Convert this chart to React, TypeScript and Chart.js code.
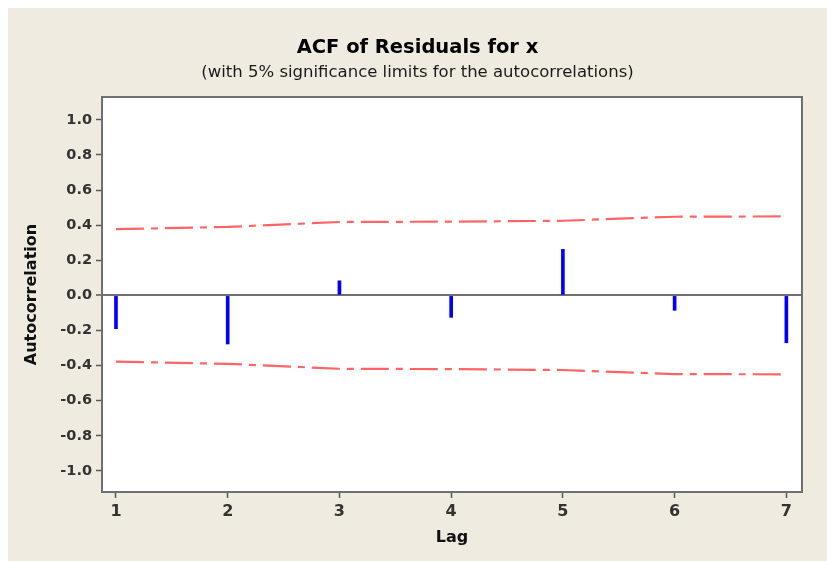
import { useEffect, useRef } from "react";
import { Chart, registerables } from "chart.js";

Chart.register(...registerables);

// ---- data ----
const lags = [1, 2, 3, 4, 5, 6, 7];
const acfValues = [-0.19, -0.277, 0.083, -0.125, 0.262, -0.085, -0.27];
const upperLimit = [0.377, 0.39, 0.418, 0.42, 0.425, 0.448, 0.45];
const lowerLimit = [-0.377, -0.39, -0.418, -0.42, -0.425, -0.448, -0.45];
const yTicks = [-1.0, -0.8, -0.6, -0.4, -0.2, 0.0, 0.2, 0.4, 0.6, 0.8, 1.0];
const xTicks = [1, 2, 3, 4, 5, 6, 7];

const titleText = "ACF of Residuals for x";
const subtitleText = "(with 5% significance limits for the autocorrelations)";
const xTitle = "Lag";
const yTitle = "Autocorrelation";

const FONT = "'DejaVu Sans', Verdana, sans-serif";
const BG = "#efebe0";

const framePlugin = {
  id: "frame",
  beforeDraw(chart: any) {
    const { ctx, width, height, chartArea: a } = chart;
    ctx.save();
    ctx.fillStyle = BG;
    ctx.fillRect(0, 0, width, height);
    ctx.fillStyle = "#ffffff";
    ctx.fillRect(a.left, a.top, a.right - a.left, a.bottom - a.top);
    ctx.restore();
  },
  afterDraw(chart: any) {
    const { ctx, chartArea: a } = chart;
    ctx.save();
    ctx.strokeStyle = "#707070";
    ctx.lineWidth = 2;
    ctx.strokeRect(a.left, a.top, a.right - a.left, a.bottom - a.top);
    ctx.restore();
  },
};

export default function App() {
  const ref = useRef<HTMLCanvasElement | null>(null);

  useEffect(() => {
    document.body.style.margin = "8px 0 0 8px";
    document.documentElement.style.overflow = "hidden";
    if (!ref.current) return;
    const chart = new Chart(ref.current, {
      type: "bar",
      data: {
        datasets: [
          {
            type: "bar",
            data: lags.map((l, i) => ({ x: l, y: acfValues[i] })),
            backgroundColor: "#0000ff",
            borderWidth: 0,
            barThickness: 3,
            order: 1,
          } as any,
          {
            type: "line",
            data: lags.map((l, i) => ({ x: l, y: upperLimit[i] })),
            borderColor: "#ff6464",
            borderWidth: 2.2,
            borderDash: [28, 7, 7, 7],
            pointRadius: 0,
            tension: 0,
            fill: false,
            order: 0,
          },
          {
            type: "line",
            data: lags.map((l, i) => ({ x: l, y: lowerLimit[i] })),
            borderColor: "#ff6464",
            borderWidth: 2.2,
            borderDash: [28, 7, 7, 7],
            pointRadius: 0,
            tension: 0,
            fill: false,
            order: 0,
          },
        ],
      },
      options: {
        responsive: false,
        animation: false,
        layout: { padding: { left: 0, right: 0, top: 0, bottom: 0 } },
        plugins: {
          legend: { display: false },
          tooltip: { enabled: false },
          title: {
            display: true,
            text: titleText,
            color: "#000000",
            font: { family: FONT, size: 19.5, weight: "bold" },
            padding: { top: 28, bottom: 0 },
          },
          subtitle: {
            display: true,
            text: subtitleText,
            color: "#1a1a1a",
            font: { family: FONT, size: 16.5, weight: "normal" },
            padding: { top: 3, bottom: 14.8 },
          },
        },
        scales: {
          x: {
            type: "linear",
            min: 0.875,
            max: 7.14,
            offset: false,
            afterBuildTicks: (s: any) => {
              s.ticks = xTicks.map((v) => ({ value: v }));
            },
            afterFit: (s: any) => {
              s.height = 69;
            },
            grid: {
              display: true,
              offset: false,
              drawOnChartArea: false,
              drawTicks: true,
              tickLength: 6,
              tickColor: "#555555",
              tickWidth: 1.5,
            },
            border: { display: false },
            ticks: {
              padding: 4,
              color: "#333333",
              font: { family: FONT, size: 16, weight: "bold" },
              maxRotation: 0,
              callback: (v: any) => String(v),
            },
            title: {
              display: true,
              text: xTitle,
              color: "#111111",
              font: { family: FONT, size: 16, weight: "bold" },
              padding: { top: 0, bottom: 14 },
            },
          },
          y: {
            type: "linear",
            min: -1.12,
            max: 1.13,
            afterBuildTicks: (s: any) => {
              s.ticks = yTicks.map((v) => ({ value: v }));
            },
            afterFit: (s: any) => {
              s.width = 94;
            },
            grid: {
              display: true,
              drawOnChartArea: true,
              drawTicks: true,
              tickLength: 6,
              tickColor: "#555555",
              tickWidth: 1.5,
              color: (c: any) => (c.tick && c.tick.value === 0 ? "#707070" : "rgba(0,0,0,0)"),
              lineWidth: (c: any) => (c.tick && c.tick.value === 0 ? 2 : 1),
            },
            border: { display: false },
            ticks: {
              padding: 4,
              color: "#333333",
              font: { family: FONT, size: 14.5, weight: "bold" },
              callback: (v: any) => Number(v).toFixed(1),
            },
            title: {
              display: true,
              text: yTitle,
              color: "#111111",
              font: { family: FONT, size: 16, weight: "bold" },
              padding: { top: 14, bottom: 0 },
            },
          },
          y2: {
            type: "linear",
            position: "right",
            display: true,
            min: -1.12,
            max: 1.13,
            grid: { display: false, drawTicks: false },
            border: { display: false },
            ticks: { display: false },
            afterFit: (s: any) => {
              s.width = 25;
            },
          },
        },
      } as any,
      plugins: [framePlugin],
    });
    return () => chart.destroy();
  }, []);

  return (
    <div style={{ width: 819, height: 553, background: BG }}>
      <canvas ref={ref} width={819} height={553} style={{ display: "block" }} />
    </div>
  );
}
